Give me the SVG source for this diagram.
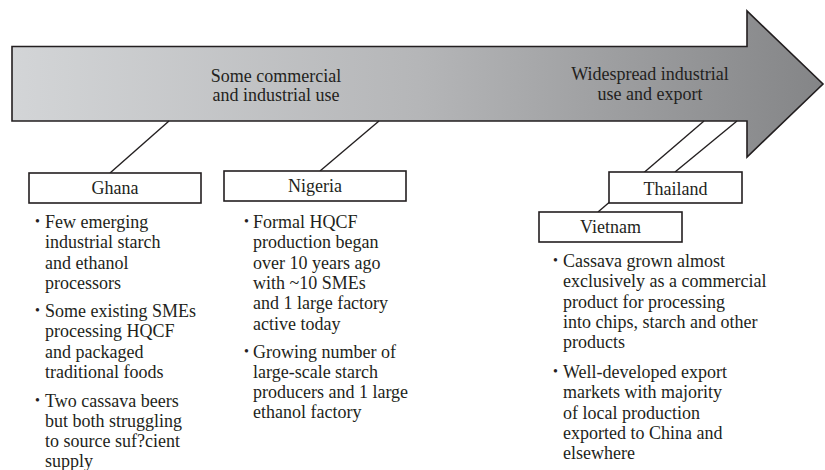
<svg xmlns="http://www.w3.org/2000/svg" width="825" height="470" viewBox="0 0 825 470">
<defs>
<linearGradient id="arrowGrad" gradientUnits="userSpaceOnUse" x1="12" y1="0" x2="823" y2="0">
<stop offset="0" stop-color="#d3d5d7"/>
<stop offset="0.5" stop-color="#b5b6b8"/>
<stop offset="1" stop-color="#848587"/>
</linearGradient>
<style>
text{font-family:"Liberation Serif","Times New Roman",serif;font-size:18px;fill:#231f20}
.c{text-anchor:middle}
.b{font-size:14px}
.box{fill:#fff;stroke:#231f20;stroke-width:1.6}
.ln{stroke:#231f20;stroke-width:1.4;fill:none}
</style>
</defs>
<rect width="825" height="470" fill="#fff"/>
<g id="arrow">
<polygon points="12,46.5 747,46.5 747,11 823,84 747,157 747,121 12,121" fill="url(#arrowGrad)" stroke="#231f20" stroke-width="1.6" stroke-linejoin="miter"/>
<text class="c" x="276" y="81.5">Some commercial</text>
<text class="c" x="276" y="100.5">and industrial use</text>
<text class="c" x="650" y="80">Widespread industrial</text>
<text class="c" x="650" y="99.5">use and export</text>
</g>
<g id="connectors">
<line class="ln" x1="110" y1="173" x2="169" y2="121"/>
<line class="ln" x1="320" y1="171" x2="379" y2="121"/>
<line class="ln" x1="598" y1="212" x2="704" y2="121"/>
<line class="ln" x1="675" y1="172" x2="737" y2="121"/>
</g>
<g id="ghana">
<rect class="box" x="29" y="173" width="172" height="30"/>
<text class="c" x="115" y="194">Ghana</text>
<text class="b" x="35" y="226">•</text>
<text x="45" y="228">Few emerging</text>
<text x="45" y="248.3">industrial starch</text>
<text x="45" y="268.6">and ethanol</text>
<text x="45" y="288.9">processors</text>
<text class="b" x="35" y="315">•</text>
<text x="45" y="317">Some existing SMEs</text>
<text x="45" y="337.3">processing HQCF</text>
<text x="45" y="357.6">and packaged</text>
<text x="45" y="377.9">traditional foods</text>
<text class="b" x="35" y="404.5">•</text>
<text x="45" y="406.5">Two cassava beers</text>
<text x="45" y="426.8">but both struggling</text>
<text x="45" y="447.1">to source suf?cient</text>
<text x="45" y="467.2">supply</text>
</g>
<g id="nigeria">
<rect class="box" x="224" y="171" width="182" height="30"/>
<text class="c" x="315" y="192">Nigeria</text>
<text class="b" x="244" y="226">•</text>
<text x="253" y="228">Formal HQCF</text>
<text x="253" y="248.3">production began</text>
<text x="253" y="268.6">over 10 years ago</text>
<text x="253" y="288.9">with ~10 SMEs</text>
<text x="253" y="309.2">and 1 large factory</text>
<text x="253" y="329.5">active today</text>
<text class="b" x="244" y="355.5">•</text>
<text x="253" y="357.5">Growing number of</text>
<text x="253" y="377.8">large-scale starch</text>
<text x="253" y="398.1">producers and 1 large</text>
<text x="253" y="418.4">ethanol factory</text>
</g>
<g id="thailand">
<rect class="box" x="609" y="172" width="133" height="31"/>
<text class="c" x="675.5" y="194.5">Thailand</text>
</g>
<g id="vietnam">
<rect class="box" x="539" y="212" width="143" height="30"/>
<text class="c" x="610.5" y="232.5">Vietnam</text>
<text class="b" x="553" y="265">•</text>
<text x="563" y="267">Cassava grown almost</text>
<text x="563" y="287.3">exclusively as a commercial</text>
<text x="563" y="307.6">product for processing</text>
<text x="563" y="327.9">into chips, starch and other</text>
<text x="563" y="348.2">products</text>
<text class="b" x="553" y="376">•</text>
<text x="563" y="378">Well-developed export</text>
<text x="563" y="398.3">markets with majority</text>
<text x="563" y="418.6">of local production</text>
<text x="563" y="438.9">exported to China and</text>
<text x="563" y="459.2">elsewhere</text>
</g>
</svg>
